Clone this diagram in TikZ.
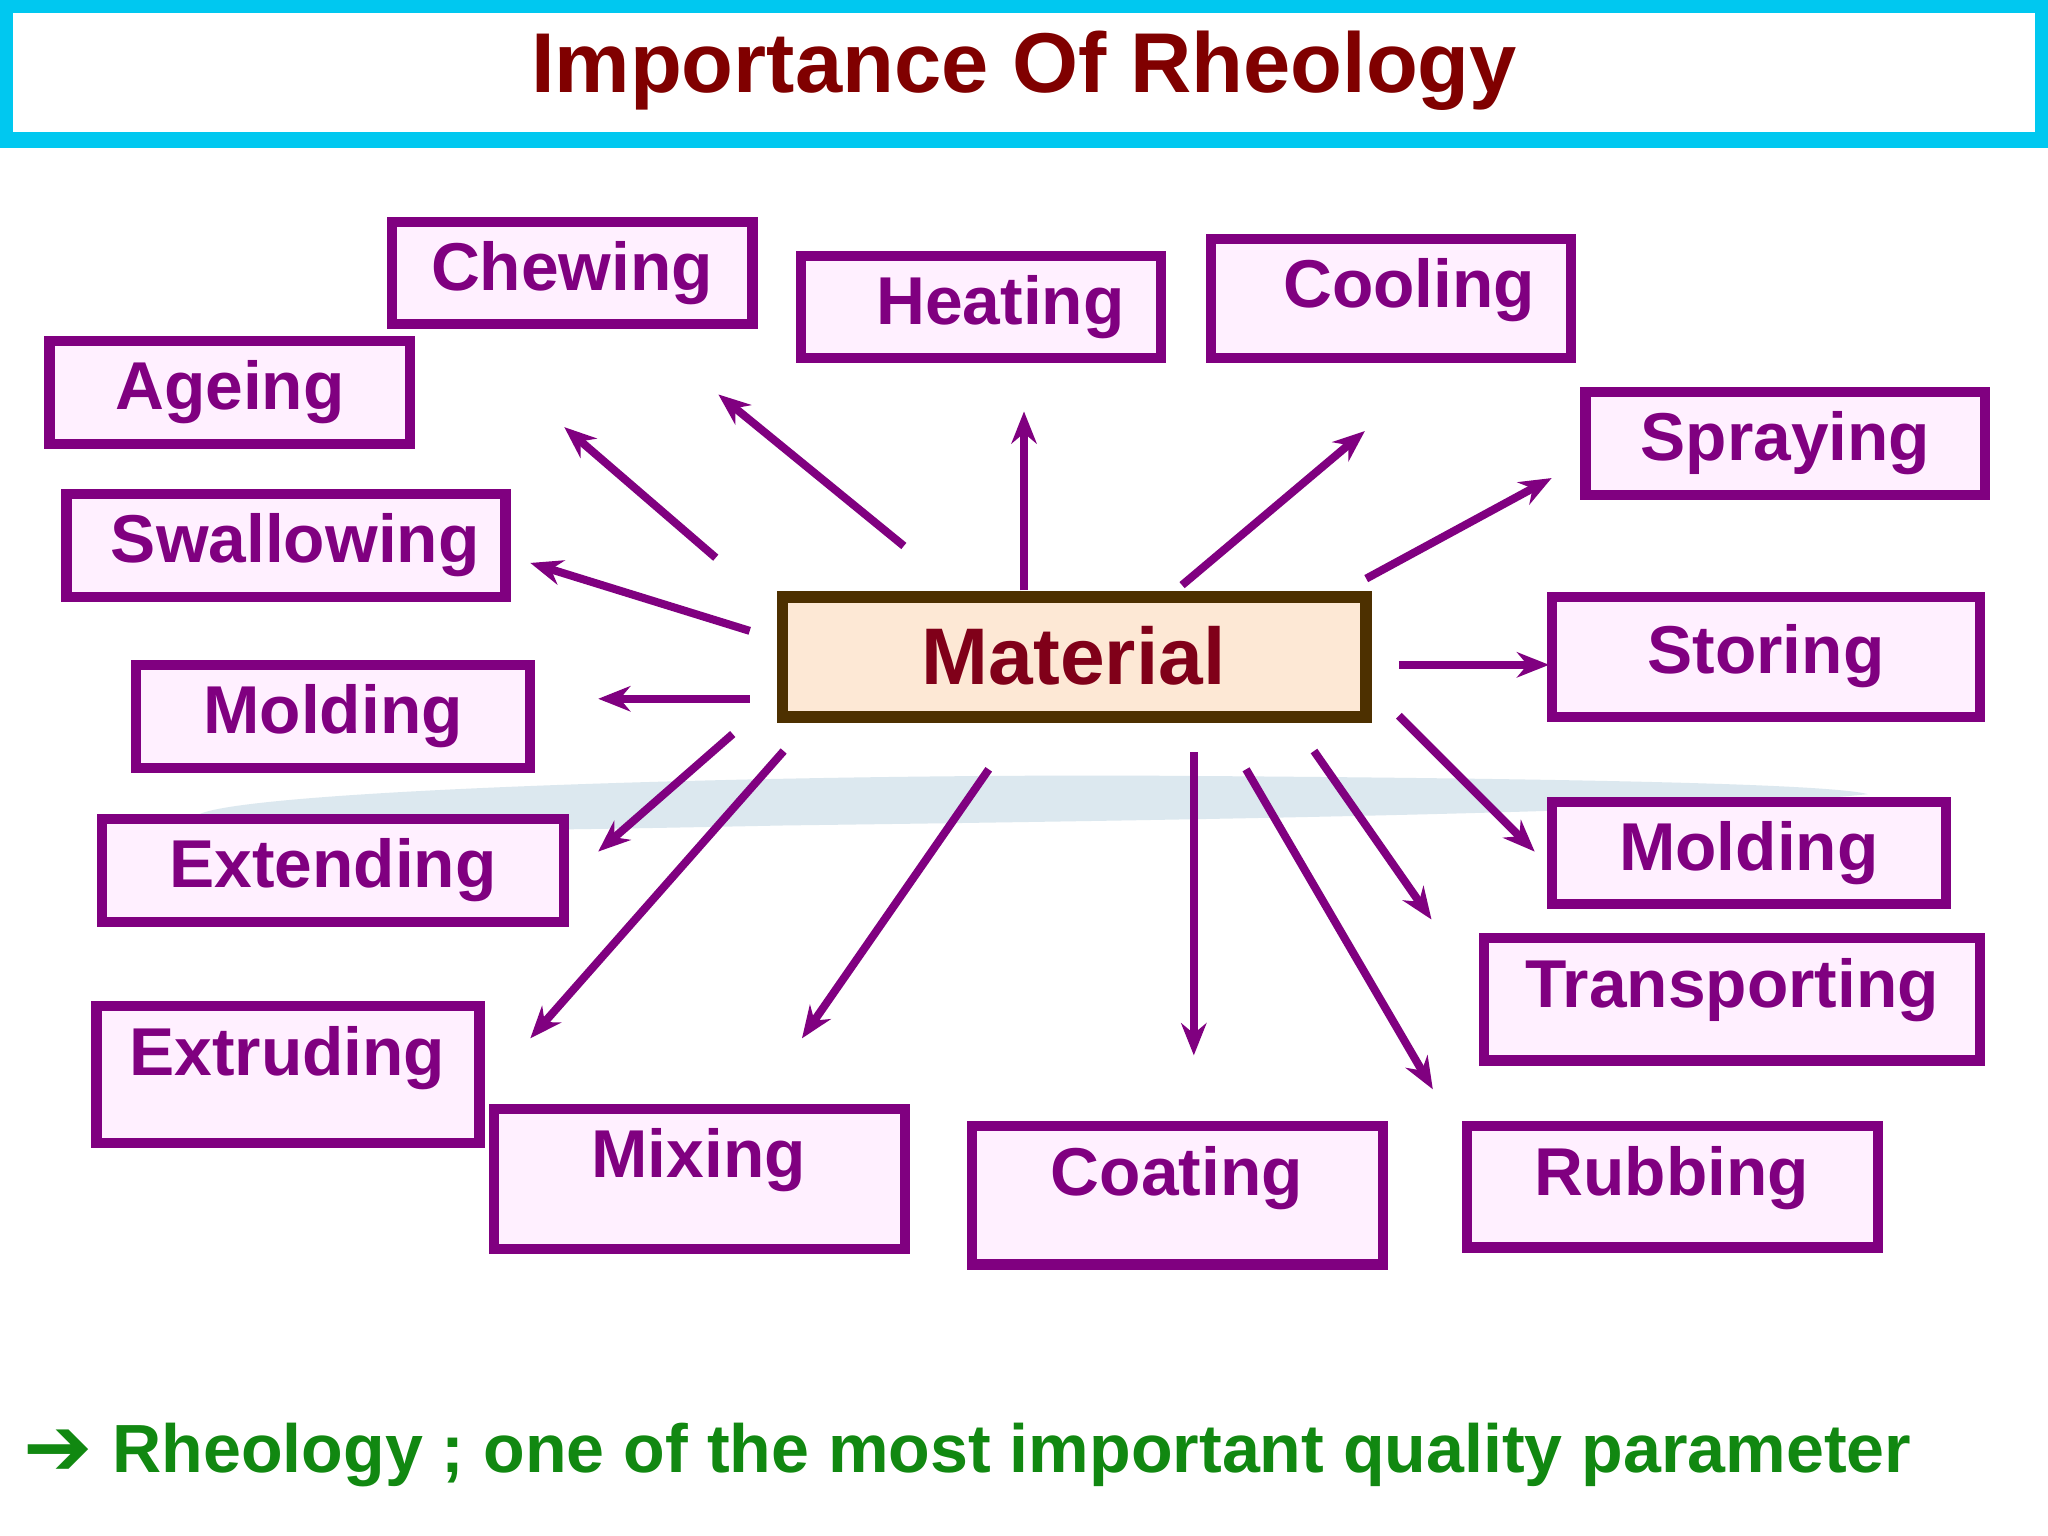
\documentclass[tikz,border=0pt]{standalone}
\usepackage{fontspec}
\setmainfont{Liberation Sans}
\newfontfamily\symf{DejaVu Sans}
\usetikzlibrary{arrows.meta}
\definecolor{pur}{HTML}{800080}
\definecolor{pfill}{HTML}{FFF0FF}
\definecolor{tred}{HTML}{800000}
\definecolor{grn}{HTML}{118811}
\definecolor{cyanf}{HTML}{00C8F0}
\definecolor{mfill}{HTML}{FDE8D5}
\definecolor{mbord}{HTML}{4D3000}
\definecolor{band}{HTML}{DCE8EF}
\tikzset{
 pbox/.style={draw=pur,fill=pfill,line width=4.5pt},
 lab/.style={text=pur,font=\fontsize{29.5}{33}\selectfont\bfseries,anchor=center},
 arr/.style={draw=pur,line width=3.5pt,-{Stealth[length=14pt,width=11pt]}}
}
\begin{document}
\begin{tikzpicture}[x=0.02cm,y=-0.02cm]
\useasboundingbox (0,0) rectangle (1568,1176);
\fill[white] (0,0) rectangle (1568,1176);
% band
\fill[band] (150,625) .. controls (170,605) and (600,592) .. (900,594) .. controls (1200,596) and (1400,600) .. (1430,608) .. controls (1300,622) and (900,628) .. (600,632) .. controls (400,636) and (200,640) .. (150,625) -- cycle;
% title
\draw[cyanf,line width=7pt,fill=white] (4,4) rectangle (1564,107);
\node[text=tred,font=\fontsize{37}{42}\selectfont\bfseries] (title) at (784,54) {Importance Of Rheology};
% boxes
\draw[pbox] (300,170) rectangle (576,248); \node[lab] (chew) at (438,209) {Chewing};
\draw[pbox] (613,196) rectangle (889,274); \node[lab] (heat) at (766,235) {Heating};
\draw[pbox] (927,183) rectangle (1203,274); \node[lab] (cool) at (1079,222) {Cooling};
\draw[pbox] (38,261) rectangle (314,340); \node[lab] (age) at (176,300) {Ageing};
\draw[pbox] (1214,300) rectangle (1520,379); \node[lab] (spray) at (1367,339) {Spraying};
\draw[pbox] (51,378) rectangle (387,457); \node[lab] (swal) at (226,417) {Swallowing};
\draw[draw=mbord,fill=mfill,line width=5pt] (599,457) rectangle (1046,549);
\node[text=tred!80!pur,font=\fontsize{35}{40}\selectfont\bfseries] (mat) at (822,502) {Material};
\draw[pbox] (1188,457) rectangle (1516,549); \node[lab] (stor) at (1352,502) {Storing};
\draw[pbox] (104,509) rectangle (406,588); \node[lab] (moldl) at (255,548) {Molding};
\draw[pbox] (78,627) rectangle (432,706); \node[lab] (ext) at (255,666) {Extending};
\draw[pbox] (1188,614) rectangle (1490,692); \node[lab] (moldr) at (1339,653) {Molding};
\draw[pbox] (1136,718) rectangle (1516,812); \node[lab] (trans) at (1326,758) {Transporting};
\draw[pbox] (74,770) rectangle (367,875); \node[lab] (extr) at (220,810) {Extruding};
\draw[pbox] (378,849) rectangle (693,956); \node[lab] (mix) at (535,888) {Mixing};
\draw[pbox] (744,862) rectangle (1059,968); \node[lab] (coat) at (901,902) {Coating};
\draw[pbox] (1123,862) rectangle (1438,955); \node[lab] (rub) at (1280,902) {Rubbing};
% arrow coordinates
\foreach \n/\a/\b/\c/\d in {a1/548/427/432/327, a2/692/418/550/302, a3/784/452/784/315, a4/905/448/1045/330, a5/1046/443/1188/366, a6/574/483/406/431, a7/574/535/458/535, a8/1071/509/1186/509, a9/561/562/458/652, a10/600/575/406/795, a11/757/589/614/795, a12/914/576/914/808, a13/954/589/1097/834, a14/1006/575/1096/704, a15/1071/548/1175/652}{
 \coordinate (\n s) at (\a,\b); \coordinate (\n e) at (\c,\d);
 \draw[arr] (\n s) -- (\n e);
}
% bottom
\node[anchor=west,text=grn,font=\fontsize{36}{40}\selectfont] (sym) at (12,1112) {\symf ➔};
\node[anchor=west,text=grn,font=\fontsize{29.7}{33}\selectfont\bfseries] (note) at (80,1114) {Rheology ; one of the most important quality parameter};
\end{tikzpicture}
\end{document}
